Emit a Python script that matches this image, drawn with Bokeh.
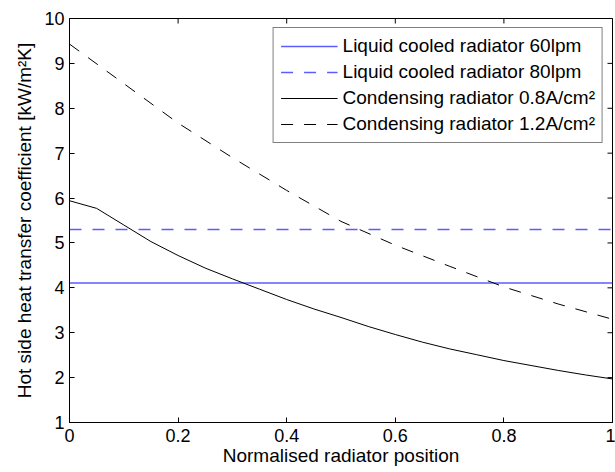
import math
from bokeh.plotting import figure
from bokeh.models import Range1d, FixedTicker, Legend, LegendItem
from bokeh.embed import file_html
from bokeh.resources import INLINE

# ---- data ----
x_lc = [0.0, 1.0]
lc60 = [4.11, 4.11]     # Liquid cooled radiator 60lpm (constant)
lc80 = [5.30, 5.30]     # Liquid cooled radiator 80lpm (constant)

x_c08 = [0.0, 0.05, 0.1, 0.15, 0.2, 0.25, 0.3, 0.35, 0.4, 0.45, 0.5,
         0.55, 0.6, 0.65, 0.7, 0.75, 0.8, 0.85, 0.9, 0.95, 1.0]
c08 = [5.94, 5.77, 5.40, 5.03, 4.72, 4.44, 4.20, 3.97, 3.74, 3.53, 3.34,
       3.14, 2.96, 2.79, 2.64, 2.51, 2.38, 2.27, 2.16, 2.06, 1.97]

x_c12 = [0.0, 0.1, 0.2, 0.3, 0.4, 0.5, 0.6, 0.7, 0.8, 0.9, 1.0]
c12 = [9.43, 8.55, 7.67, 6.90, 6.17, 5.48, 4.95, 4.48, 4.02, 3.64, 3.30]

x_ticks = [0, 0.2, 0.4, 0.6, 0.8, 1]
y_ticks = [1, 2, 3, 4, 5, 6, 7, 8, 9, 10]

labels = ["Liquid cooled radiator 60lpm",
          "Liquid cooled radiator 80lpm",
          "Condensing radiator 0.8A/cm\u00b2",
          "Condensing radiator 1.2A/cm\u00b2"]

X_MIN, X_MAX = 0, 1
Y_MIN, Y_MAX = 1, 10
FONT = "Liberation Sans"
BLUE = "#5c5cff"

p = figure(width=615, height=472, output_backend="svg", toolbar_location=None,
           x_range=Range1d(X_MIN, X_MAX), y_range=Range1d(Y_MIN, Y_MAX),
           min_border_left=69, min_border_right=3, min_border_top=18,
           min_border_bottom=50)
p.xgrid.visible = False
p.ygrid.visible = False
p.outline_line_color = "black"
p.outline_line_width = 1

r1 = p.line(x_lc, lc60, line_color=BLUE, line_width=1.5)
r2 = p.line(x_lc, lc80, line_color=BLUE, line_width=1.5, line_dash="12 11")
r3 = p.line(x_c08, c08, line_color="#000000", line_width=1)
r4 = p.line(x_c12, c12, line_color="#000000", line_width=1, line_dash="12 11")

# inward ticks on the top and right edges (half of each dash is clipped by the frame)
p.scatter(x_ticks, [Y_MAX] * len(x_ticks), marker="dash", size=10, angle=math.pi / 2,
          line_color="black", line_width=1)
p.scatter([X_MAX] * len(y_ticks), y_ticks, marker="dash", size=10,
          line_color="black", line_width=1)

for ax in (p.xaxis[0], p.yaxis[0]):
    ax.axis_line_color = "black"
    ax.major_tick_in = 5
    ax.major_tick_out = 0
    ax.minor_tick_line_color = None
    ax.major_tick_line_color = "black"
    ax.major_label_text_font = FONT
    ax.major_label_text_font_size = "18px"
    ax.major_label_text_color = "black"
    ax.axis_label_text_font = FONT
    ax.axis_label_text_font_size = "19px"
    ax.axis_label_text_font_style = "normal"
    ax.axis_label_text_color = "black"

p.xaxis.ticker = FixedTicker(ticks=x_ticks)
p.yaxis.ticker = FixedTicker(ticks=y_ticks)
p.xaxis.major_label_overrides = {0: "0", 1: "1"}
p.xaxis.axis_label = "Normalised radiator position"
p.yaxis.axis_label = "Hot side heat transfer coefficient [kW/m\u00b2K]"
p.xaxis.major_label_standoff = 6
p.xaxis.axis_label_standoff = 0
p.yaxis.major_label_standoff = 5
p.yaxis.axis_label_standoff = 6

legend = Legend(items=[LegendItem(label=l, renderers=[r]) for l, r in zip(labels, [r1, r2, r3, r4])],
                location="top_right")
legend.margin = 9
legend.padding = 7
legend.spacing = 4
legend.glyph_width = 57
legend.label_standoff = 5
legend.label_text_font = FONT
legend.label_text_font_size = "19px"
legend.label_text_color = "black"
legend.border_line_color = "black"
legend.border_line_width = 1
legend.background_fill_alpha = 1
p.add_layout(legend, "center")

open("out.html", "w").write(file_html(p, INLINE))
